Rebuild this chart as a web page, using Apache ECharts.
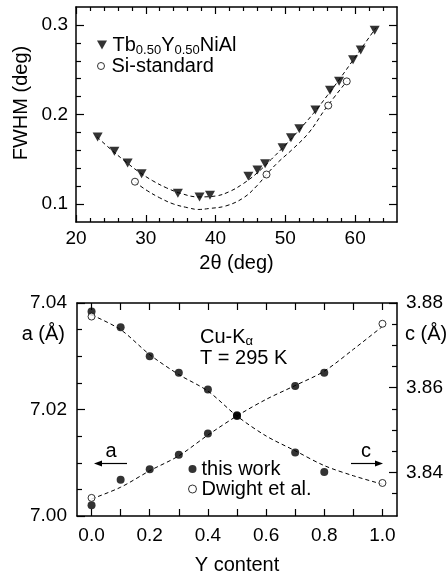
<!DOCTYPE html>
<html>
<head>
<meta charset="utf-8">
<script src="https://cdn.jsdelivr.net/npm/echarts@6/dist/echarts.min.js"></script>
<style>
  html, body { margin: 0; padding: 0; background: #fff; }
  #chart { width: 446px; height: 576px; }
</style>
</head>
<body>
<div id="chart"></div>
<script>
const FONT = '"Liberation Sans", Arial, Helvetica, sans-serif';

// top panel: FWHM vs 2theta
const tbAngle = [23.1, 25.5, 27.4, 29.4, 34.6, 37.7, 39.2, 44.7, 46.0, 47.1, 49.6, 50.8, 52.0, 54.3, 56.4, 57.7, 59.7, 60.8, 62.8];
const tbFwhm = [0.175, 0.159, 0.146, 0.134, 0.112, 0.108, 0.110, 0.131, 0.138, 0.145, 0.163, 0.174, 0.184, 0.205, 0.227, 0.237, 0.261, 0.272, 0.294];
const siAngle = [28.45, 47.3, 56.15, 58.8];
const siFwhm = [0.125, 0.133, 0.210, 0.237];
// dashed fit curves
const tbFitAngle = [23.0, 25.0, 27.0, 29.0, 31.0, 33.0, 35.0, 37.5, 40.0, 42.0, 44.0, 46.0, 48.0, 50.0, 52.0, 54.0, 56.0, 58.0, 60.0, 62.0, 63.0];
const tbFitFwhm = [0.175, 0.161, 0.148, 0.136, 0.126, 0.118, 0.112, 0.108, 0.109, 0.114, 0.123, 0.135, 0.150, 0.166, 0.183, 0.201, 0.221, 0.242, 0.264, 0.286, 0.297];
const siFitAngle = [28.4, 30.0, 32.0, 34.0, 36.0, 37.5, 39.0, 41.5, 44.0, 46.0, 47.3, 49.0, 51.0, 53.4, 55.8, 58.8];
const siFitFwhm = [0.125, 0.116, 0.107, 0.100, 0.096, 0.094, 0.095, 0.098, 0.107, 0.121, 0.133, 0.147, 0.161, 0.180, 0.207, 0.237];

// bottom panel: lattice parameters vs Y content
const yContent = [0.0, 0.1, 0.2, 0.3, 0.4, 0.5, 0.7, 0.8];
const aThisWork = [7.0020, 7.0068, 7.0088, 7.0115, 7.0155, 7.0188, 7.0244, 7.0269];
const cThisWork = [3.8780, 3.8743, 3.8674, 3.8635, 3.8596, 3.8535, 3.8447, 3.8401];
const dwightY = [0.0, 1.0];
const aDwight = [7.0034, 7.0361];
const cDwight = [3.8768, 3.8375];
const fitY = [0.0, 0.1, 0.2, 0.3, 0.4, 0.5, 0.6, 0.7, 0.8, 0.9, 1.0];
const aFit = [7.0032, 7.0054, 7.0085, 7.0113, 7.0152, 7.0188, 7.0219, 7.0245, 7.0272, 7.0313, 7.0356];
const cFit = [3.8772, 3.8737, 3.8678, 3.8631, 3.8592, 3.8533, 3.8486, 3.8451, 3.8416, 3.8392, 3.8372];

// ticks
const angleMajor = [20, 30, 40, 50, 60];
const angleMinor = [22, 24, 26, 28, 32, 34, 36, 38, 42, 44, 46, 48, 52, 54, 56, 58, 62, 64];
const fwhmMajor = [0.1, 0.2, 0.3];
const fwhmMinor = [0.12, 0.14, 0.16, 0.18, 0.22, 0.24, 0.26, 0.28];
const yTicks = [0.0, 0.1, 0.2, 0.3, 0.4, 0.5, 0.6, 0.7, 0.8, 0.9, 1.0];
const yLabels = [0.0, 0.2, 0.4, 0.6, 0.8, 1.0];
const aMajor = [7.00, 7.02, 7.04];
const aMinor = [7.005, 7.010, 7.015, 7.025, 7.030, 7.035];
const cMajor = [3.84, 3.86, 3.88];
const cMinor = [3.835, 3.845, 3.850, 3.855, 3.865, 3.870, 3.875];

const zip = (xs, ys) => xs.map((x, i) => [x, ys[i]]);
const TRI = 'path://M0,0L10,0L5,9Z';
const TXT = 20;

function axis(o) {
  return {
    type: 'value', gridIndex: o.grid, position: o.pos, min: o.min, max: o.max,
    axisLine: { show: o.line !== false, onZero: false, lineStyle: { color: '#000', width: 1.5 } },
    axisTick: { show: true, inside: true, length: o.len, customValues: o.ticks, lineStyle: { color: '#000', width: 1.2 } },
    axisLabel: o.labels ? {
      show: true, customValues: o.labels, formatter: o.fmt, margin: o.margin,
      color: '#000', fontSize: 19, fontFamily: FONT
    } : { show: false },
    splitLine: { show: false },
    name: o.name || '', nameLocation: 'middle', nameGap: o.nameGap || 0,
    nameTextStyle: { color: '#000', fontSize: TXT, fontFamily: FONT }
  };
}

const dashed = { color: '#000', width: 1, type: [4, 3] };
const openDot = { color: '#fff', borderColor: '#000', borderWidth: 1 };

const chart = echarts.init(document.getElementById('chart'), null, { renderer: 'canvas' });

chart.setOption({
  backgroundColor: '#fff',
  animation: false,
  textStyle: { fontFamily: FONT, color: '#000' },
  grid: [
    { left: 76, right: 49, top: 7, height: 215 },
    { left: 77, right: 49, top: 303, height: 214 }
  ],
  xAxis: [
    axis({ grid: 0, pos: 'bottom', min: 20, max: 66, ticks: angleMajor, len: 7, labels: angleMajor, fmt: v => String(v), margin: 7, name: '2θ (deg)', nameGap: 31 }),
    axis({ grid: 0, pos: 'bottom', min: 20, max: 66, ticks: angleMinor, len: 4, line: false }),
    axis({ grid: 0, pos: 'top', min: 20, max: 66, ticks: angleMajor, len: 7 }),
    axis({ grid: 0, pos: 'top', min: 20, max: 66, ticks: angleMinor, len: 4, line: false }),
    axis({ grid: 1, pos: 'bottom', min: -0.05, max: 1.05, ticks: yTicks, len: 7, labels: yLabels, fmt: v => v.toFixed(1), margin: 10, name: 'Y content', nameGap: 39 }),
    axis({ grid: 1, pos: 'top', min: -0.05, max: 1.05, ticks: yTicks, len: 7 })
  ],
  yAxis: [
    axis({ grid: 0, pos: 'left', min: 0.08, max: 0.32, ticks: fwhmMajor, len: 8, labels: fwhmMajor, fmt: v => v.toFixed(1), margin: 8 }),
    axis({ grid: 0, pos: 'left', min: 0.08, max: 0.32, ticks: fwhmMinor, len: 5, line: false }),
    axis({ grid: 0, pos: 'right', min: 0.08, max: 0.32, ticks: fwhmMajor, len: 8 }),
    axis({ grid: 0, pos: 'right', min: 0.08, max: 0.32, ticks: fwhmMinor, len: 5, line: false }),
    axis({ grid: 1, pos: 'left', min: 7.00, max: 7.04, ticks: aMajor, len: 8, labels: aMajor, fmt: v => v.toFixed(2), margin: 10 }),
    axis({ grid: 1, pos: 'left', min: 7.00, max: 7.04, ticks: aMinor, len: 5, line: false }),
    axis({ grid: 1, pos: 'right', min: 3.8297, max: 3.88, ticks: cMajor, len: 8, labels: cMajor, fmt: v => v.toFixed(2), margin: 9 }),
    axis({ grid: 1, pos: 'right', min: 3.8297, max: 3.88, ticks: cMinor, len: 5, line: false })
  ],
  legend: [
    {
      selectedMode: false, padding: 0, left: 97, top: 35, itemWidth: 11, itemHeight: 9,
      data: [{ name: 'Tb0.50Y0.50NiAl', icon: TRI, itemStyle: { color: '#000' } }],
      formatter: () => '{n|Tb}{s|0.50}{n|Y}{s|0.50}{n|NiAl}',
      textStyle: {
        color: '#000', fontFamily: FONT,
        rich: {
          n: { fontSize: TXT, fontFamily: FONT, color: '#000' },
          s: { fontSize: 13, fontFamily: FONT, color: '#000', padding: [10, 0, 0, 0] }
        }
      }
    },
    {
      selectedMode: false, padding: 0, left: 97, top: 56, itemWidth: 11, itemHeight: 7,
      data: [{ name: 'Si-standard', icon: 'circle', itemStyle: openDot }],
      textStyle: { color: '#000', fontSize: TXT, fontFamily: FONT }
    },
    {
      selectedMode: false, padding: 0, orient: 'vertical', left: 188, top: 459, itemWidth: 8, itemHeight: 8, itemGap: 0,
      data: [
        { name: 'this work', icon: 'circle', itemStyle: { color: '#000' } },
        { name: 'Dwight et al.', icon: 'circle', itemStyle: openDot }
      ],
      textStyle: { color: '#000', fontSize: TXT, fontFamily: FONT, lineHeight: 19 }
    }
  ],
  graphic: [
    { type: 'text', x: 21, y: 103, rotation: Math.PI / 2,
      style: { text: 'FWHM (deg)', fontSize: TXT, fontFamily: FONT, fill: '#000', align: 'center', verticalAlign: 'middle' } },
    { type: 'text', x: 65, y: 334,
      style: { text: 'a (Å)', fontSize: TXT, fontFamily: FONT, fill: '#000', align: 'right', verticalAlign: 'middle' } },
    { type: 'text', x: 405, y: 334,
      style: { text: 'c (Å)', fontSize: TXT, fontFamily: FONT, fill: '#000', align: 'left', verticalAlign: 'middle' } },
    { type: 'text', x: 200, y: 337,
      style: {
        text: '{n|Cu-K}{s|α}', fontFamily: FONT, fill: '#000', align: 'left', verticalAlign: 'middle',
        rich: {
          n: { fontSize: TXT, fontFamily: FONT, fill: '#000' },
          s: { fontSize: 13, fontFamily: FONT, fill: '#000', padding: [9, 0, 0, 0] }
        }
      } },
    { type: 'text', x: 200, y: 358,
      style: { text: 'T = 295 K', fontSize: TXT, fontFamily: FONT, fill: '#000', align: 'left', verticalAlign: 'middle' } },
    { type: 'text', x: 111, y: 451,
      style: { text: 'a', fontSize: TXT, fontFamily: FONT, fill: '#000', align: 'center', verticalAlign: 'middle' } },
    { type: 'line', shape: { x1: 127, y1: 463.5, x2: 100, y2: 463.5 }, style: { stroke: '#000', lineWidth: 1.2 } },
    { type: 'polygon', shape: { points: [[94, 463.5], [102, 460.5], [102, 466.5]] }, style: { fill: '#000' } },
    { type: 'text', x: 366, y: 451,
      style: { text: 'c', fontSize: TXT, fontFamily: FONT, fill: '#000', align: 'center', verticalAlign: 'middle' } },
    { type: 'line', shape: { x1: 351, y1: 463.5, x2: 377, y2: 463.5 }, style: { stroke: '#000', lineWidth: 1.2 } },
    { type: 'polygon', shape: { points: [[383, 463.5], [375, 460.5], [375, 466.5]] }, style: { fill: '#000' } }
  ],
  series: [
    { type: 'line', name: 'fit Tb', xAxisIndex: 0, yAxisIndex: 0, data: zip(tbFitAngle, tbFitFwhm),
      smooth: 0.4, showSymbol: false, lineStyle: dashed, z: 2 },
    { type: 'line', name: 'fit Si', xAxisIndex: 0, yAxisIndex: 0, data: zip(siFitAngle, siFitFwhm),
      smooth: 0.4, showSymbol: false, lineStyle: dashed, z: 2 },
    { type: 'scatter', name: 'Tb0.50Y0.50NiAl', xAxisIndex: 0, yAxisIndex: 0, data: zip(tbAngle, tbFwhm),
      symbol: TRI, symbolSize: [10, 9], itemStyle: { color: '#000' }, z: 3 },
    { type: 'scatter', name: 'Si-standard', xAxisIndex: 0, yAxisIndex: 0, data: zip(siAngle, siFwhm),
      symbol: 'circle', symbolSize: 7, itemStyle: openDot, z: 4 },

    { type: 'line', name: 'fit a', xAxisIndex: 4, yAxisIndex: 4, data: zip(fitY, aFit),
      smooth: 0.3, showSymbol: false, lineStyle: dashed, z: 2 },
    { type: 'line', name: 'fit c', xAxisIndex: 4, yAxisIndex: 6, data: zip(fitY, cFit),
      smooth: 0.3, showSymbol: false, lineStyle: dashed, z: 2 },
    { type: 'scatter', name: 'this work', xAxisIndex: 4, yAxisIndex: 4, data: zip(yContent, aThisWork),
      symbol: 'circle', symbolSize: 8, itemStyle: { color: '#000' }, z: 3 },
    { type: 'scatter', name: 'this work', xAxisIndex: 4, yAxisIndex: 6, data: zip(yContent, cThisWork),
      symbol: 'circle', symbolSize: 8, itemStyle: { color: '#000' }, z: 3 },
    { type: 'scatter', name: 'Dwight et al.', xAxisIndex: 4, yAxisIndex: 4, data: zip(dwightY, aDwight),
      symbol: 'circle', symbolSize: 7, itemStyle: openDot, z: 4 },
    { type: 'scatter', name: 'Dwight et al.', xAxisIndex: 4, yAxisIndex: 6, data: zip(dwightY, cDwight),
      symbol: 'circle', symbolSize: 7, itemStyle: openDot, z: 4 }
  ]
});
</script>
</body>
</html>
